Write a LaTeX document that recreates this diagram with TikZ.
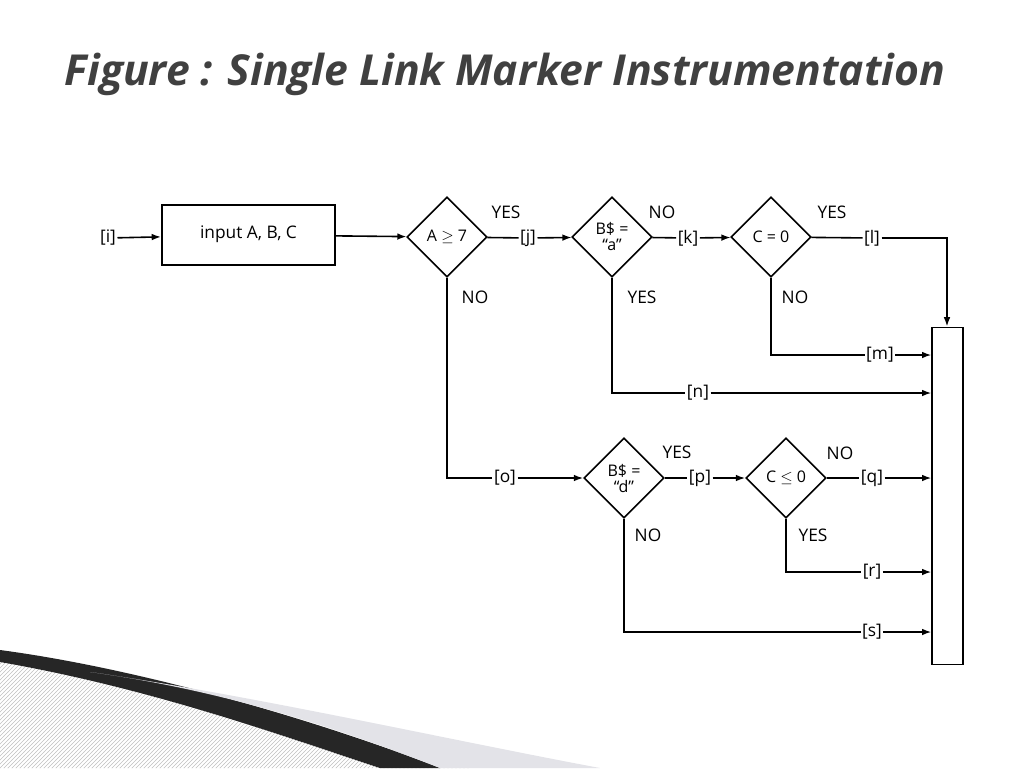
\documentclass[tikz,border=0pt]{standalone}
\usepackage{fontspec}
\setmainfont{Open Sans}
\usetikzlibrary{shapes.geometric,arrows.meta,patterns}
\begin{document}
\begin{tikzpicture}[x=0.75pt,y=-0.75pt,
 lab/.style={font=\fontsize{13}{13}\selectfont,inner sep=1pt},
 dia/.style={diamond,draw,line width=1.2pt,minimum width=60pt,minimum height=60pt,inner sep=0pt,align=center,font=\fontsize{12}{12}\selectfont},
 ln/.style={line width=1.2pt},
 ar/.style={ln,-{Latex[length=7pt,width=5pt]}}]
\useasboundingbox (0,0) rectangle (1024,768);
% decoration
\fill[pattern=north east lines,pattern color=gray!50] (0,655) -- (60,665) .. controls (200,700) and (350,740) .. (470,768) -- (0,768) -- cycle;
\fill[black!85] (0,650) .. controls (150,670) and (330,725) .. (440,768) -- (380,768) .. controls (280,735) and (150,688) .. (0,662) -- cycle;
\fill[blue!8!gray!20] (90,672) .. controls (250,695) and (450,740) .. (600,768) -- (440,768) .. controls (330,725) and (220,690) .. (90,672) -- cycle;
\node[anchor=base west,text=black!75,font=\fontsize{32}{32}\selectfont\bfseries\itshape] (t) at (60,85) {Figure : Single Link Marker Instrumentation};
% nodes
\node[lab] (i) at (108,238) {[i]};
\node[draw,line width=1.2pt,minimum width=130pt,minimum height=45pt,font=\fontsize{13}{13}\selectfont] (in) at (248.5,235) {\strut input A, B, C};
\node[dia] (d1) at (447,237) {A $\geq$ 7};
\node[dia] (d2) at (612,237) {B\$ =\\``a''};
\node[dia] (d3) at (771,237) {C = 0};
\node[dia] (d4) at (624,478) {B\$ =\\``d''};
\node[dia] (d5) at (786,478) {C $\leq$ 0};
\node[draw,line width=1.2pt,minimum width=23pt,minimum height=253pt,inner sep=0pt] (r) at (947.5,496) {};
\node[lab] (j) at (528,238) {[j]};
\node[lab] (k) at (688,238) {[k]};
\node[lab] (l) at (872,238) {[l]};
\node[lab] (m) at (880,355) {[m]};
\node[lab] (n) at (698,393) {[n]};
\node[lab] (o) at (505,478) {[o]};
\node[lab] (p) at (700,478) {[p]};
\node[lab] (q) at (872,478) {[q]};
\node[lab] (rr) at (872,572) {[r]};
\node[lab] (s) at (872,632) {[s]};
\node[lab] at (506,212) {YES};
\node[lab] at (475,297) {NO};
\node[lab] at (662,212) {NO};
\node[lab] at (642,297) {YES};
\node[lab] at (832,212) {YES};
\node[lab] at (795,297) {NO};
\node[lab] at (677,452) {YES};
\node[lab] at (648,535) {NO};
\node[lab] at (840,453) {NO};
\node[lab] at (813,535) {YES};
% connectors
\draw[ar] (i) -- (in);
\draw[ar] (in) -- (d1);
\draw[ln] (d1) -- (j); \draw[ar] (j) -- (d2);
\draw[ln] (d2) -- (k); \draw[ar] (k) -- (d3);
\draw[ln] (d3) -- (l); \draw[ar] (l) -| (r.north -| 947,0);
\draw[ln] (d3.south) |- (m); \draw[ar] (m) -- (m -| r.west);
\draw[ln] (d2.south) |- (n); \draw[ar] (n) -- (n -| r.west);
\draw[ln] (d1.south) |- (o); \draw[ar] (o) -- (d4);
\draw[ln] (d4) -- (p); \draw[ar] (p) -- (d5);
\draw[ln] (d5) -- (q); \draw[ar] (q) -- (q -| r.west);
\draw[ln] (d5.south) |- (rr); \draw[ar] (rr) -- (rr -| r.west);
\draw[ln] (d4.south) |- (s); \draw[ar] (s) -- (s -| r.west);
\end{tikzpicture}
\end{document}
